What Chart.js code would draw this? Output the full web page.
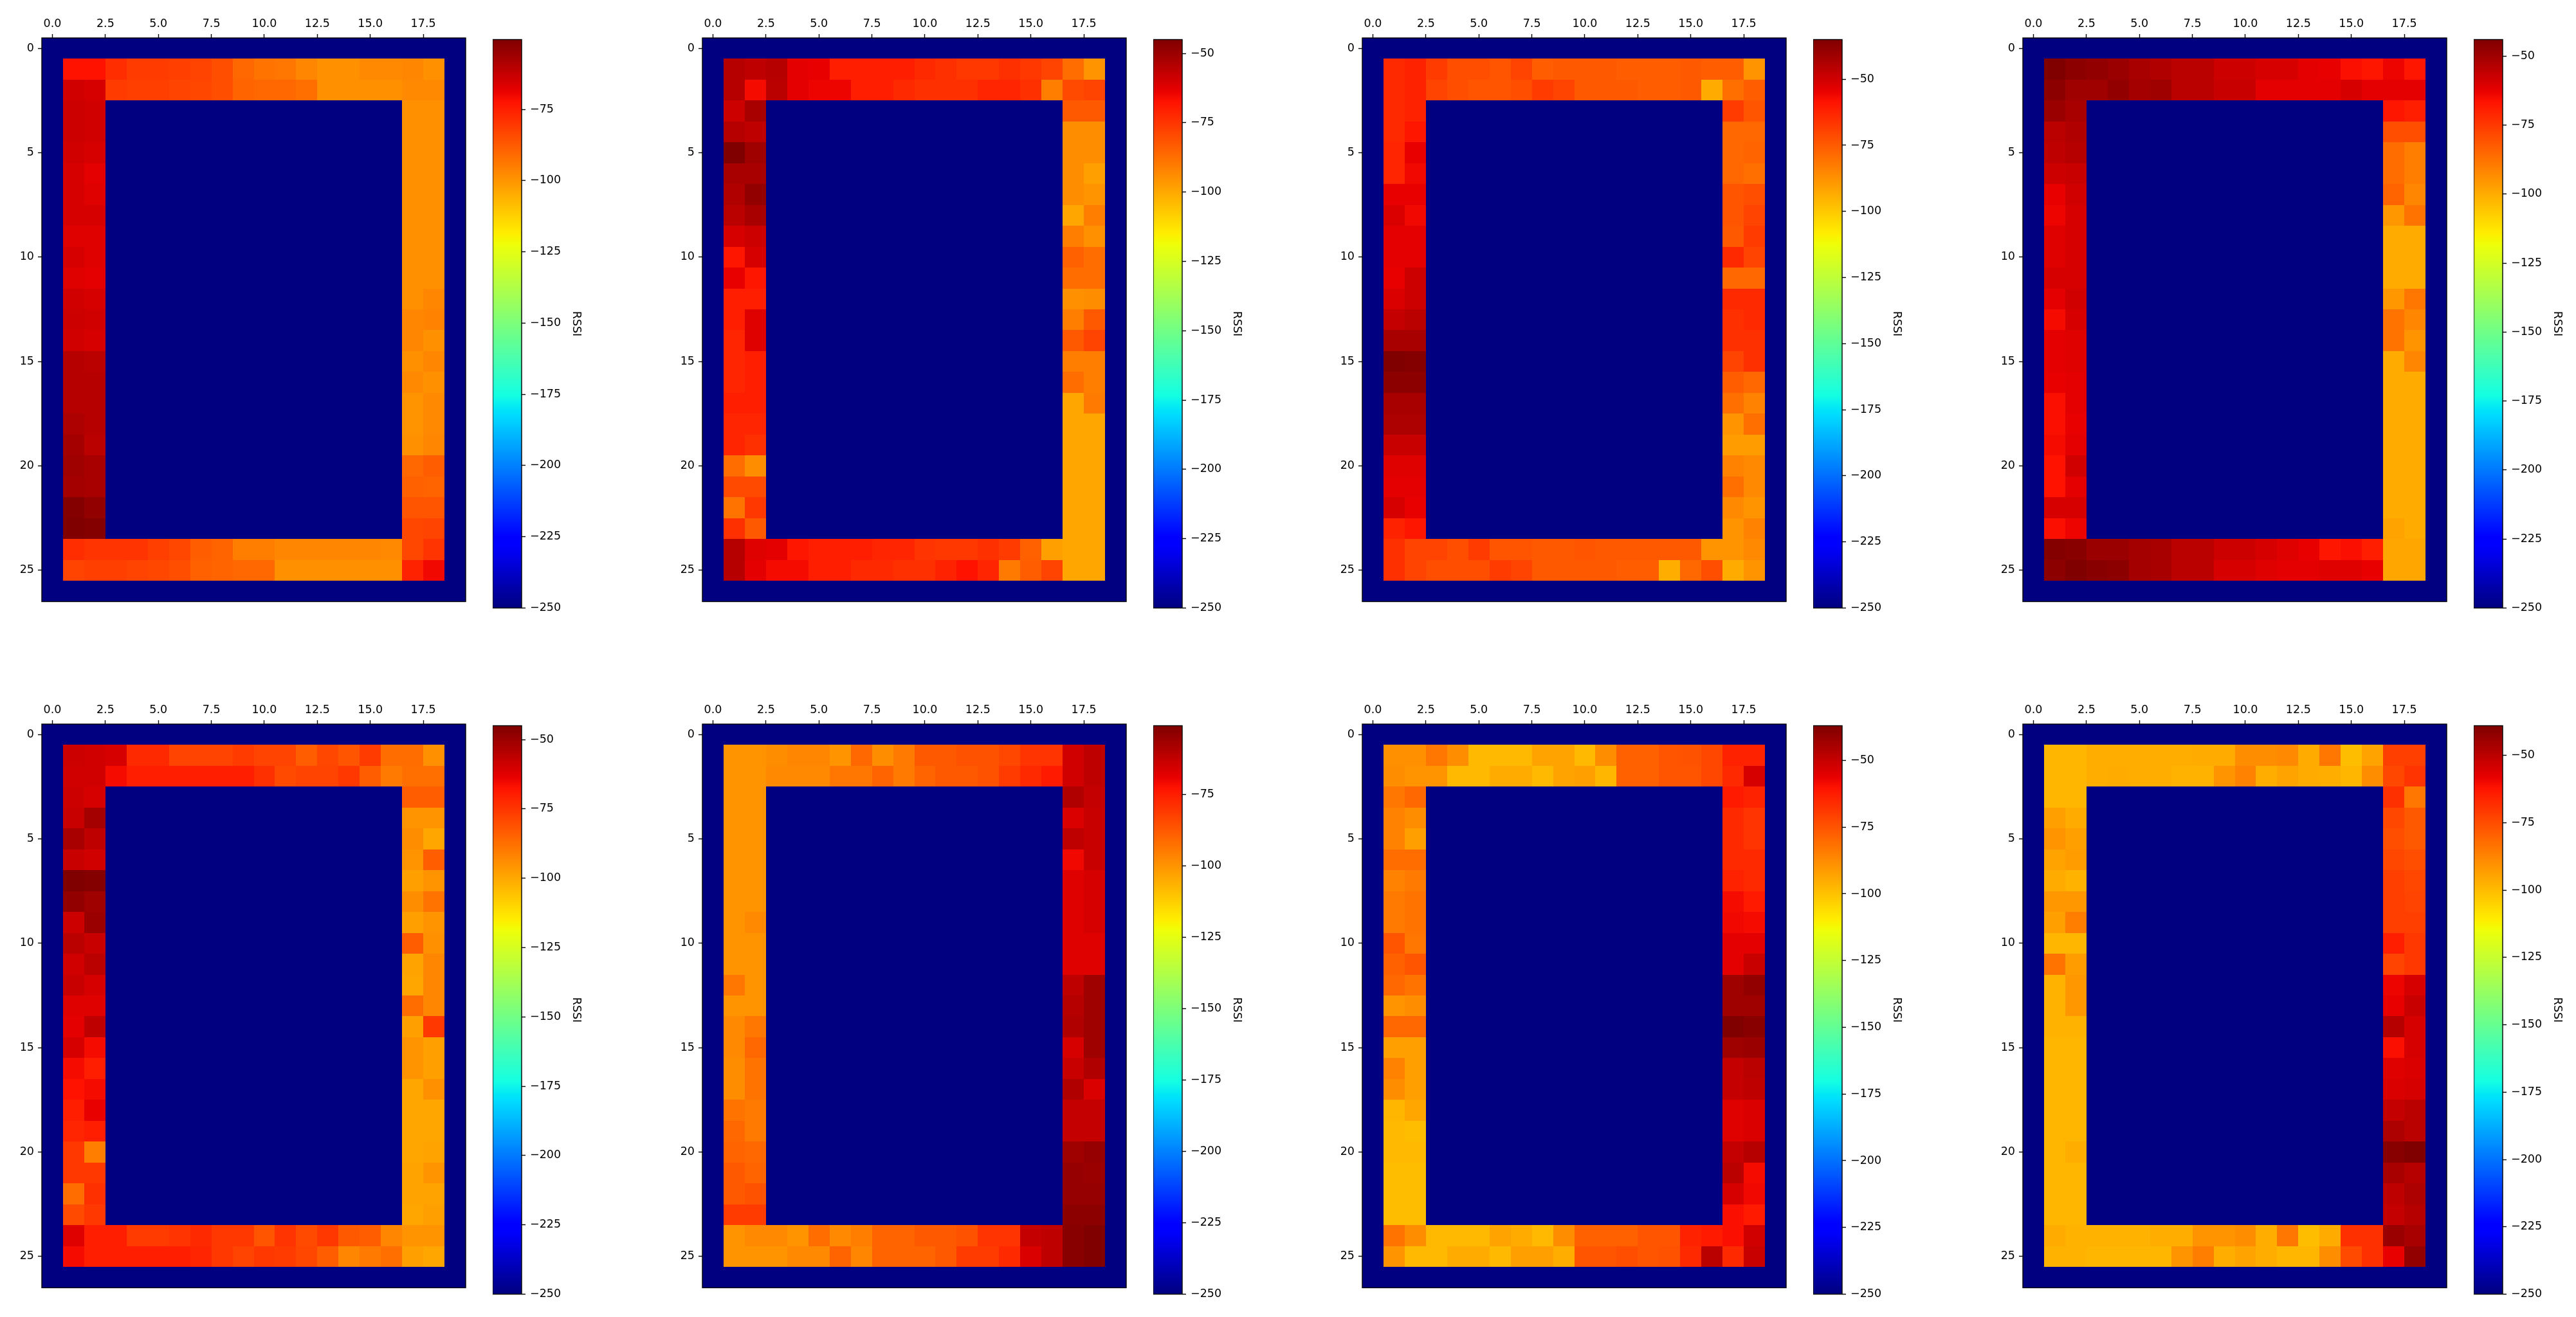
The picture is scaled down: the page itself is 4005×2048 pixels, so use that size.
<!DOCTYPE html>
<html><head><meta charset="utf-8">
<script src="https://cdn.jsdelivr.net/npm/chart.js@4.4.1/dist/chart.umd.min.js"></script>
<style>
html,body{margin:0;padding:0;background:#fff;}
#wrap{position:relative;width:4005px;height:2048px;overflow:hidden;background:#fff;}
canvas{position:absolute;}
</style></head><body><div id="wrap"></div>
<script>
// ---------- data ----------
const FILL_VALUE = -250;            // value of the dark-blue background cells
const xTickValues = [0, 2.5, 5, 7.5, 10, 12.5, 15, 17.5];
const xTickLabels = ['0.0', '2.5', '5.0', '7.5', '10.0', '12.5', '15.0', '17.5'];
const yTickValues = [0, 5, 10, 15, 20, 25];
const yTickLabels = ['0', '5', '10', '15', '20', '25'];
const colorbarTickValues = [-250, -225, -200, -175, -150, -125, -100, -75, -50];
const colorbarTickLabels = ['\u2212250', '\u2212225', '\u2212200', '\u2212175', '\u2212150', '\u2212125', '\u2212100', '\u221275', '\u221250'];
const colorbarLabel = 'RSSI';

// Ring values: rows 1,2,24,25 -> columns 1..18 ; rows 3..23 -> [col1, col2, col17, col18]
const panel1 = [
 [-73,-73,-78,-81,-81,-82,-83,-85,-91,-93,-94,-97,-99,-99,-98,-98,-97,-99],
 [-65,-66,-81,-82,-82,-83,-84,-85,-90,-91,-91,-92,-99,-99,-99,-99,-98,-98],
 [-64,-65,-99,-99],[-64,-65,-99,-99],[-65,-66,-99,-99],[-66,-68,-99,-99],[-66,-67,-99,-99],
 [-66,-66,-99,-99],[-67,-67,-99,-99],[-66,-67,-99,-99],[-67,-68,-99,-99],[-65,-66,-99,-97],
 [-64,-65,-97,-96],[-65,-66,-97,-99],[-60,-61,-99,-97],[-60,-60,-98,-99],[-60,-60,-100,-98],
 [-59,-60,-100,-98],[-57,-61,-99,-97],[-56,-58,-91,-88],[-57,-58,-89,-90],[-52,-54,-87,-87],
 [-50.5,-52,-84,-83],
 [-78,-80,-80,-80,-82,-84,-88,-90,-95,-95,-97,-97,-97,-97,-97,-98,-84,-80],
 [-83,-82,-82,-83,-84,-85,-89,-90,-91,-91,-99,-99,-99,-99,-99,-99,-76,-70]
];
const panel2 = [
 [-55,-57,-55,-63,-64,-70,-70,-70,-70,-73,-74,-76,-76,-74,-76,-78,-87,-96],
 [-55,-66,-56,-63,-65,-65,-70,-70,-73,-74,-74,-74,-72,-72,-74,-91,-80,-78],
 [-59,-53,-83,-83],[-55,-57,-94,-94],[-45,-51,-94,-94],[-53,-53,-94,-98],[-54,-49,-94,-96],
 [-56,-53,-100,-91],[-61,-59,-91,-95],[-69,-61,-85,-87],[-64,-69,-87,-87],[-70,-70,-95,-94],
 [-70,-62,-91,-83],[-72,-62,-83,-78],[-72,-70,-91,-91],[-72,-70,-87,-91],[-70,-70,-100,-90],
 [-72,-72,-100,-100],[-72,-74,-100,-100],[-87,-94,-100,-100],[-80,-80,-100,-100],[-89,-76,-100,-100],
 [-74,-83,-100,-100],
 [-55,-62,-63,-69,-70,-70,-70,-72,-72,-75,-76,-76,-74,-77,-85,-98,-100,-100],
 [-55,-63,-66,-66,-70,-70,-73,-73,-74,-74,-71,-68,-72,-90,-84,-78,-100,-100]
];
const panel3 = [
 [-64,-62,-68,-72,-72,-74,-70,-76,-75,-75,-75,-76,-76,-76,-75,-76,-76,-88],
 [-64,-62,-70,-72,-74,-74,-72,-68,-70,-75,-75,-75,-76,-76,-75,-93,-80,-76],
 [-64,-62,-68,-74],[-64,-60,-78,-78],[-63,-55,-78,-77],[-63,-56,-78,-80],[-55,-55,-74,-72],
 [-52,-56,-74,-70],[-54,-54,-75,-68],[-54,-54,-64,-70],[-55,-50,-78,-78],[-52,-50,-64,-64],
 [-48,-46,-66,-64],[-43,-43,-66,-66],[-35,-36,-70,-66],[-38,-38,-76,-78],[-43,-43,-80,-84],
 [-44,-44,-88,-80],[-49,-49,-90,-90],[-53,-53,-84,-86],[-54,-54,-80,-86],[-51,-55,-86,-88],
 [-62,-60,-88,-84],
 [-66,-70,-70,-72,-68,-74,-74,-75,-75,-74,-75,-75,-75,-75,-75,-88,-88,-86],
 [-66,-70,-72,-72,-72,-68,-70,-75,-75,-75,-75,-76,-76,-94,-78,-72,-93,-88]
];
const panel4 = [
 [-44,-47,-48,-49,-52,-53,-55,-55,-58,-58,-60,-60,-62,-63,-66,-68,-64,-68],
 [-47,-50,-50,-48,-51,-50,-55,-55,-57,-57,-62,-62,-62,-62,-60,-62,-62,-62],
 [-49,-52,-68,-69],[-55,-53,-80,-80],[-56,-54,-86,-90],[-58,-57,-86,-90],[-63,-59,-85,-92],
 [-64,-60,-96,-88],[-61,-60,-100,-100],[-61,-60,-100,-100],[-60,-60,-100,-100],[-62,-59,-96,-89],
 [-65,-60,-88,-92],[-62,-61,-88,-95],[-62,-61,-100,-92],[-63,-62,-100,-100],[-66,-62,-100,-100],
 [-66,-63,-100,-100],[-65,-62,-100,-100],[-67,-59,-100,-100],[-67,-62,-100,-100],[-60,-60,-100,-100],
 [-66,-64,-98,-100],
 [-45,-46,-49,-49,-51,-52,-55,-55,-58,-58,-60,-61,-63,-68,-66,-69,-99,-99],
 [-47,-44,-46,-47,-51,-52,-55,-55,-60,-60,-61,-62,-62,-61,-61,-63,-99,-99]
];
const panel5 = [
 [-59,-60,-61,-73,-73,-78,-78,-78,-77,-78,-78,-84,-79,-82,-77,-87,-87,-95],
 [-60,-60,-66,-70,-70,-70,-70,-70,-70,-74,-80,-78,-78,-76,-84,-90,-88,-88],
 [-59,-61,-84,-84],[-58,-52,-96,-96],[-53,-57,-94,-100],[-58,-60,-96,-84],[-45,-46,-98,-96],
 [-49,-51,-94,-89],[-59,-50,-98,-96],[-56,-58,-84,-95],[-60,-56,-99,-93],[-58,-61,-100,-93],
 [-62,-62,-87,-93],[-63,-57,-98,-76],[-61,-66,-96,-98],[-66,-70,-96,-98],[-68,-66,-100,-95],
 [-70,-64,-100,-100],[-72,-70,-100,-100],[-76,-91,-100,-99],[-76,-76,-99,-96],[-87,-74,-99,-99],
 [-80,-76,-100,-98],
 [-62,-70,-70,-77,-77,-75,-73,-76,-76,-82,-75,-80,-76,-83,-84,-93,-96,-96],
 [-66,-70,-70,-70,-70,-70,-72,-76,-78,-76,-77,-79,-84,-93,-90,-88,-98,-100]
];
const panel6 = [
 [-100,-100,-99,-97,-97,-100,-91,-99,-95,-88,-88,-86,-86,-84,-80,-80,-65,-62],
 [-100,-100,-98,-98,-98,-94,-94,-90,-95,-90,-88,-88,-86,-82,-78,-75,-65,-62],
 [-100,-100,-60,-63],[-100,-100,-67,-64],[-100,-100,-62,-64],[-100,-100,-71,-64],[-100,-100,-68,-66],
 [-100,-100,-68,-66],[-100,-98,-68,-66],[-100,-100,-68,-68],[-100,-100,-68,-68],[-94,-100,-62,-57],
 [-100,-100,-61,-57],[-98,-94,-60,-57],[-98,-91,-66,-57],[-99,-93,-64,-60],[-99,-93,-60,-67],
 [-93,-95,-63,-63],[-91,-95,-63,-63],[-90,-91,-57,-55],[-88,-90,-55,-56],[-88,-86,-55,-55],
 [-82,-82,-54,-54],
 [-100,-98,-98,-100,-92,-98,-96,-90,-90,-88,-88,-86,-80,-80,-63,-62,-53,-51],
 [-100,-100,-100,-98,-98,-90,-97,-90,-90,-90,-88,-82,-82,-78,-67,-62,-53,-51]
];
const panel7 = [
 [-89,-89,-83,-88,-98,-98,-98,-93,-93,-98,-88,-78,-78,-76,-75,-72,-64,-64],
 [-88,-90,-90,-98,-98,-95,-95,-98,-93,-92,-97,-78,-78,-76,-76,-72,-66,-53],
 [-83,-80,-62,-64],[-86,-88,-66,-68],[-86,-92,-66,-68],[-81,-81,-66,-66],[-86,-84,-64,-66],
 [-84,-82,-59,-62],[-84,-82,-58,-59],[-76,-83,-56,-56],[-78,-76,-56,-51],[-80,-82,-43,-41],
 [-90,-88,-43,-43],[-80,-80,-37,-39],[-92,-92,-43,-42],[-86,-92,-50,-48],[-88,-92,-50,-49],
 [-97,-94,-55,-54],[-98,-99,-55,-54],[-98,-98,-50,-47],[-99,-99,-48,-59],[-99,-99,-53,-58],
 [-99,-99,-60,-62],
 [-82,-88,-98,-98,-98,-93,-95,-98,-88,-78,-78,-78,-76,-76,-64,-62,-60,-52],
 [-90,-98,-98,-95,-95,-98,-92,-92,-96,-76,-76,-74,-76,-75,-66,-48,-66,-51]
];
const panel8 = [
 [-99,-99,-97,-97,-97,-97,-97,-96,-96,-90,-90,-89,-96,-85,-100,-95,-72,-72],
 [-99,-99,-97,-96,-97,-97,-98,-98,-91,-87,-97,-95,-96,-97,-99,-90,-74,-70],
 [-99,-99,-69,-85],[-94,-96,-74,-78],[-91,-94,-76,-78],[-95,-93,-74,-76],[-96,-98,-72,-74],
 [-92,-92,-72,-73],[-94,-86,-72,-72],[-99,-99,-65,-71],[-84,-93,-73,-71],[-98,-92,-59,-55],
 [-98,-92,-58,-53],[-98,-98,-49,-55],[-99,-99,-62,-55],[-99,-99,-57,-56],[-99,-99,-56,-55],
 [-99,-99,-52,-50],[-99,-99,-48,-50],[-99,-97,-41,-39],[-99,-99,-47,-49],[-99,-99,-51,-48],
 [-99,-99,-52,-49],
 [-96,-98,-98,-98,-98,-97,-97,-91,-91,-90,-97,-85,-100,-96,-69,-69,-44,-47],
 [-98,-98,-99,-99,-99,-99,-91,-86,-97,-95,-97,-99,-99,-90,-75,-69,-58,-43]
];
const panels = [panel1, panel2, panel3, panel4, panel5, panel6, panel7, panel8];

// ---------- layout (pixels) ----------
const N_COLS = 20, N_ROWS = 27;
const PLOT_LEFT = [65, 1092, 2118, 3145];
const PLOT_TOP = [59, 1126];
const PLOT_W = 659, PLOT_H = 889;
const CB_OFFSET = 701, CB_W = 45;
const FONT = 'DejaVu Sans';
const FONT_SIZE = 17.5;

Chart.defaults.font.family = FONT;
Chart.defaults.color = '#000';

// matplotlib 'jet' colormap (256 levels)
const JR = [[0,0],[0.35,0],[0.66,1],[0.89,1],[1,0.5]];
const JG = [[0,0],[0.125,0],[0.375,1],[0.64,1],[0.91,0],[1,0]];
const JB = [[0,0.5],[0.11,1],[0.34,1],[0.65,0],[1,0]];
function seg(s, t) {
  for (let i = 0; i < s.length - 1; i++) {
    const [x0, y0] = s[i], [x1, y1] = s[i + 1];
    if (t >= x0 && t <= x1) return x1 === x0 ? y1 : y0 + (y1 - y0) * (t - x0) / (x1 - x0);
  }
  return s[s.length - 1][1];
}
function jetLevel(t) {
  t = Math.min(1, Math.max(0, t));
  const i = Math.min(255, Math.floor(t * 256));
  const u = i / 255;
  return 'rgb(' + Math.round(seg(JR, u) * 255) + ',' + Math.round(seg(JG, u) * 255) + ',' + Math.round(seg(JB, u) * 255) + ')';
}

function ringValue(p, r, c) {
  if (r < 1 || r > 25 || c < 1 || c > 18) return FILL_VALUE;
  const row = p[r - 1];
  if (row.length === 18) return row[c - 1];
  if (c === 1) return row[0];
  if (c === 2) return row[1];
  if (c === 17) return row[2];
  if (c === 18) return row[3];
  return FILL_VALUE;
}

const cellPlugin = {
  id: 'cells',
  beforeDatasetsDraw(chart, args, opts) {
    const { ctx, scales: { x, y } } = chart;
    const data = chart.data.datasets[0].data;
    ctx.save();
    for (const p of data) {
      const x0 = Math.round(x.getPixelForValue(p.x - 0.5)), x1 = Math.round(x.getPixelForValue(p.x + 0.5));
      const y0 = Math.round(y.getPixelForValue(p.y - 0.5)), y1 = Math.round(y.getPixelForValue(p.y + 0.5));
      ctx.fillStyle = jetLevel((p.v - opts.vmin) / (opts.vmax - opts.vmin));
      ctx.fillRect(Math.min(x0, x1), Math.min(y0, y1), Math.abs(x1 - x0), Math.abs(y1 - y0));
    }
    ctx.restore();
  }
};
const framePlugin = {
  id: 'frame',
  afterDraw(chart) {
    const { ctx, chartArea: a } = chart;
    ctx.save();
    ctx.strokeStyle = '#000';
    ctx.lineWidth = 1.4;
    ctx.strokeRect(a.left, a.top, a.right - a.left, a.bottom - a.top);
    ctx.restore();
  }
};

const tickGrid = { display: true, drawOnChartArea: false, drawTicks: true, tickLength: 6, tickWidth: 1.4, tickColor: '#000' };
const wrap = document.getElementById('wrap');

function makeCanvas(left, top, w, h) {
  const c = document.createElement('canvas');
  c.width = w; c.height = h;
  c.style.left = left + 'px'; c.style.top = top + 'px';
  c.style.width = w + 'px'; c.style.height = h + 'px';
  wrap.appendChild(c);
  return c;
}

panels.forEach((p, i) => {
  const col = i % 4, row = Math.floor(i / 4);
  const pl = PLOT_LEFT[col], pt = PLOT_TOP[row];
  const cells = [];
  let vmax = -Infinity, vmin = Infinity;
  for (let r = 0; r < N_ROWS; r++) {
    for (let c = 0; c < N_COLS; c++) {
      const v = ringValue(p, r, c);
      cells.push({ x: c, y: r, v: v });
      vmax = Math.max(vmax, v); vmin = Math.min(vmin, v);
    }
  }

  // heatmap
  const hc = makeCanvas(pl - 60, pt - 59, 60 + PLOT_W + 4, 59 + PLOT_H + 4);
  new Chart(hc, {
    type: 'scatter',
    data: { datasets: [{ data: cells, pointRadius: 0, showLine: false }] },
    options: {
      responsive: false, animation: false, devicePixelRatio: 1, events: [],
      layout: { padding: { left: 0, top: 0, right: 4, bottom: 4 } },
      plugins: { legend: { display: false }, tooltip: { enabled: false }, cells: { vmin: vmin, vmax: vmax } },
      scales: {
        x: {
          type: 'linear', position: 'top', min: -0.5, max: N_COLS - 0.5,
          afterBuildTicks: s => { s.ticks = xTickValues.map(v => ({ value: v })); },
          afterFit: s => { s.height = 59; },
          ticks: { callback: v => xTickLabels[xTickValues.indexOf(v)], font: { size: FONT_SIZE }, color: '#000', padding: 5, maxRotation: 0, autoSkip: false },
          grid: tickGrid, border: { display: false }
        },
        y: {
          type: 'linear', position: 'left', reverse: true, min: -0.5, max: N_ROWS - 0.5,
          afterBuildTicks: s => { s.ticks = yTickValues.map(v => ({ value: v })); },
          afterFit: s => { s.width = 60; },
          ticks: { callback: v => yTickLabels[yTickValues.indexOf(v)], font: { size: FONT_SIZE }, color: '#000', padding: 6, autoSkip: false },
          grid: tickGrid, border: { display: false }
        }
      }
    },
    plugins: [cellPlugin, framePlugin]
  });

  // colorbar
  const cc = makeCanvas(pl + CB_OFFSET, pt - 15, CB_W + 95, PLOT_H + 30);
  new Chart(cc, {
    type: 'bar',
    data: {
      labels: [colorbarLabel],
      datasets: [{
        data: [[vmin, vmax]],
        barPercentage: 1, categoryPercentage: 1, borderWidth: 0,
        backgroundColor: ctx => {
          const chart = ctx.chart;
          const a = chart.chartArea;
          if (!a) return jetLevel(1);
          const ys = chart.scales.y;
          const g = chart.ctx.createLinearGradient(0, ys.getPixelForValue(vmin), 0, ys.getPixelForValue(vmax));
          for (let k = 0; k < 256; k++) g.addColorStop(k / 255, jetLevel(k / 255));
          return g;
        }
      }]
    },
    options: {
      responsive: false, animation: false, devicePixelRatio: 1, events: [],
      layout: { padding: { left: 0, top: 15, right: 0, bottom: 15 } },
      plugins: { legend: { display: false }, tooltip: { enabled: false } },
      scales: {
        x: { display: false },
        y: {
          position: 'right', min: vmin, max: vmax,
          afterBuildTicks: s => { s.ticks = colorbarTickValues.filter(v => v <= vmax + 1e-9).map(v => ({ value: v })); },
          afterFit: s => { s.width = 95; },
          ticks: { callback: v => colorbarTickLabels[colorbarTickValues.indexOf(v)], font: { size: FONT_SIZE }, color: '#000', padding: 7, autoSkip: false },
          grid: tickGrid, border: { display: false },
          title: { display: true, text: colorbarLabel, font: { size: FONT_SIZE }, color: '#000', padding: 0 }
        }
      }
    },
    plugins: [framePlugin]
  });
});
</script>
</body></html>
